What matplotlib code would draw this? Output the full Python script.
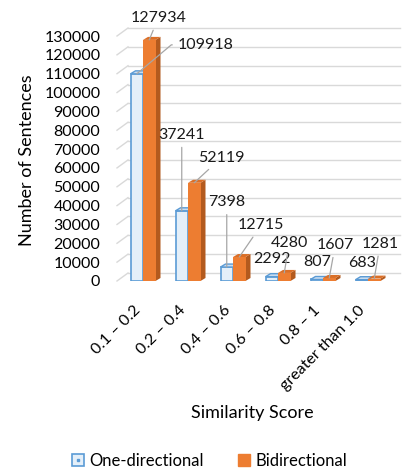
import matplotlib
matplotlib.use('Agg')
import matplotlib.pyplot as plt
from matplotlib.patches import Polygon
from matplotlib.lines import Line2D
from matplotlib.legend_handler import HandlerTuple

plt.rcParams['font.family'] = ['Lato', 'DejaVu Sans']

# data
categories = ['0.1 – 0.2', '0.2 – 0.4', '0.4 – 0.6', '0.6 – 0.8', '0.8 – 1', 'greater than 1.0']
one_dir = [109918, 37241, 7398, 2292, 807, 683]
bi_dir = [127934, 52119, 12715, 4280, 1607, 1281]

# label offsets in pixels (dx right, dy up) from the bar top
one_off = [(69, 29), (0, 76), (0, 65), (0, 18), (0, 17), (0, 17)]
bi_off = [(9, 22), (27, 25), (22, 32), (5, 30), (6, 33), (6, 35)]
one_line = [True, True, True, False, False, False]
bi_line = [True, True, True, True, True, True]

W, H = 404, 471
fig = plt.figure(figsize=(W / 100, H / 100), dpi=100)

left_px, right_px, zero_px, top_px = 117, 400, 281, 36
ax = fig.add_axes([left_px / W, (H - zero_px) / H, (right_px - left_px) / W, (zero_px - top_px) / H])

ymax = 130000
ux = 1 / 45.0                      # data units per pixel in x
uy = ymax / (zero_px - top_px)     # data units per pixel in y
xl = (left_px - 143) * ux
xr = (right_px - 143) * ux
ax.set_xlim(xl, xr)
ax.set_ylim(0, ymax)

grid_c = '#D9D9D9'
ticks = list(range(0, ymax + 1, 10000))
for v in ticks:
    ax.plot([xl, xl + 11 * ux], [v, v + 8 * uy], color=grid_c, lw=1, clip_on=False, zorder=0)
    ax.plot([xl + 11 * ux, xr], [v + 8 * uy, v + 8 * uy], color=grid_c, lw=1, clip_on=False, zorder=0)

x = list(range(len(categories)))
bw = 12.5 * ux
dx, dy = 5 * ux, 3 * uy
blue_edge = '#5B9BD5'
blue_face = '#E4EFF9'
orange = '#ED7D31'
orange_side = '#B35A1E'
orange_top = '#DB6F27'

xb = [i - bw / 2 for i in x]
xo = [i + bw / 2 for i in x]

ax.bar(xb, one_dir, width=bw, color=blue_face, edgecolor=blue_edge, lw=1.2, zorder=2)
for xc, v in zip(xb, one_dir):
    x0, x1 = xc - bw / 2, xc + bw / 2
    ax.add_patch(Polygon([(x0, v), (x0 + dx, v + dy), (x1 + dx, v + dy), (x1, v)],
                         closed=True, facecolor='#C9DDF1', edgecolor=blue_edge, lw=1, zorder=2, clip_on=False))

for xc, v in zip(xo, bi_dir):
    x0, x1 = xc - bw / 2, xc + bw / 2
    ax.add_patch(Polygon([(x1, 0), (x1, v), (x1 + dx, v + dy), (x1 + dx, dy)],
                         closed=True, facecolor=orange_side, edgecolor='none', zorder=3, clip_on=False))
    ax.add_patch(Polygon([(x0, v), (x0 + dx, v + dy), (x1 + dx, v + dy), (x1, v)],
                         closed=True, facecolor=orange_top, edgecolor='none', zorder=3, clip_on=False))
ax.bar(xo, bi_dir, width=bw, color=orange, edgecolor='none', zorder=4)

line_c = '#A6A6A6'
fs = 11.5
for xc, v, (ox, oy), ln in zip(xb, one_dir, one_off, one_line):
    kw = {}
    if ln:
        cs = 'angle,angleA=0,angleB=40,rad=0' if v == max(one_dir) else 'arc3'
        kw['arrowprops'] = dict(arrowstyle='-', color=line_c, lw=0.9, shrinkA=2, shrinkB=0,
                                connectionstyle=cs)
    ax.annotate(str(v), xy=(xc, v), xytext=(ox * 0.72, oy * 0.72), textcoords='offset points',
                ha='center', va='center', fontsize=fs, color='#1A1A1A', zorder=6, **kw)
for xc, v, (ox, oy), ln in zip(xo, bi_dir, bi_off, bi_line):
    kw = {}
    if ln:
        kw['arrowprops'] = dict(arrowstyle='-', color=line_c, lw=0.9, shrinkA=2, shrinkB=0)
    ax.annotate(str(v), xy=(xc, v), xytext=(ox * 0.72, oy * 0.72), textcoords='offset points',
                ha='center', va='center', fontsize=fs, color='#1A1A1A', zorder=6, **kw)

ax.set_yticks(ticks)
ax.set_yticklabels([str(t) for t in ticks], fontsize=fs)
ax.set_xticks(x)
ax.set_xticklabels(categories, rotation=45, ha='right', fontsize=fs)
ax.tick_params(axis='y', length=0, pad=12)
ax.tick_params(axis='x', length=0, pad=16)
for s in ax.spines.values():
    s.set_visible(False)

ax.set_ylabel('Number of Sentences', fontsize=13)
ax.yaxis.set_label_coords(27 / W, (H - 160) / H, transform=fig.transFigure)
ax.set_xlabel('Similarity Score', fontsize=13)
ax.xaxis.set_label_coords(252 / W, (H - 413) / H, transform=fig.transFigure)
ax.xaxis.label.set_va('center')
ax.yaxis.label.set_va('center')

h1 = (Line2D([], [], marker='s', ls='none', markersize=8, markerfacecolor=blue_face,
             markeredgecolor=blue_edge, markeredgewidth=1.2),
      Line2D([], [], marker='s', ls='none', markersize=2, color=blue_edge))
h2 = Line2D([], [], marker='s', ls='none', markersize=9, color=orange)
fig.legend([h1, h2], ['One-directional', 'Bidirectional'], loc='center',
           bbox_to_anchor=(209 / W, (H - 461) / H), ncol=2, frameon=False, fontsize=12,
           handlelength=0.8, handletextpad=0.3, columnspacing=2.0,
           handler_map={tuple: HandlerTuple(ndivide=1)})

fig.savefig('out.png', dpi=100)
